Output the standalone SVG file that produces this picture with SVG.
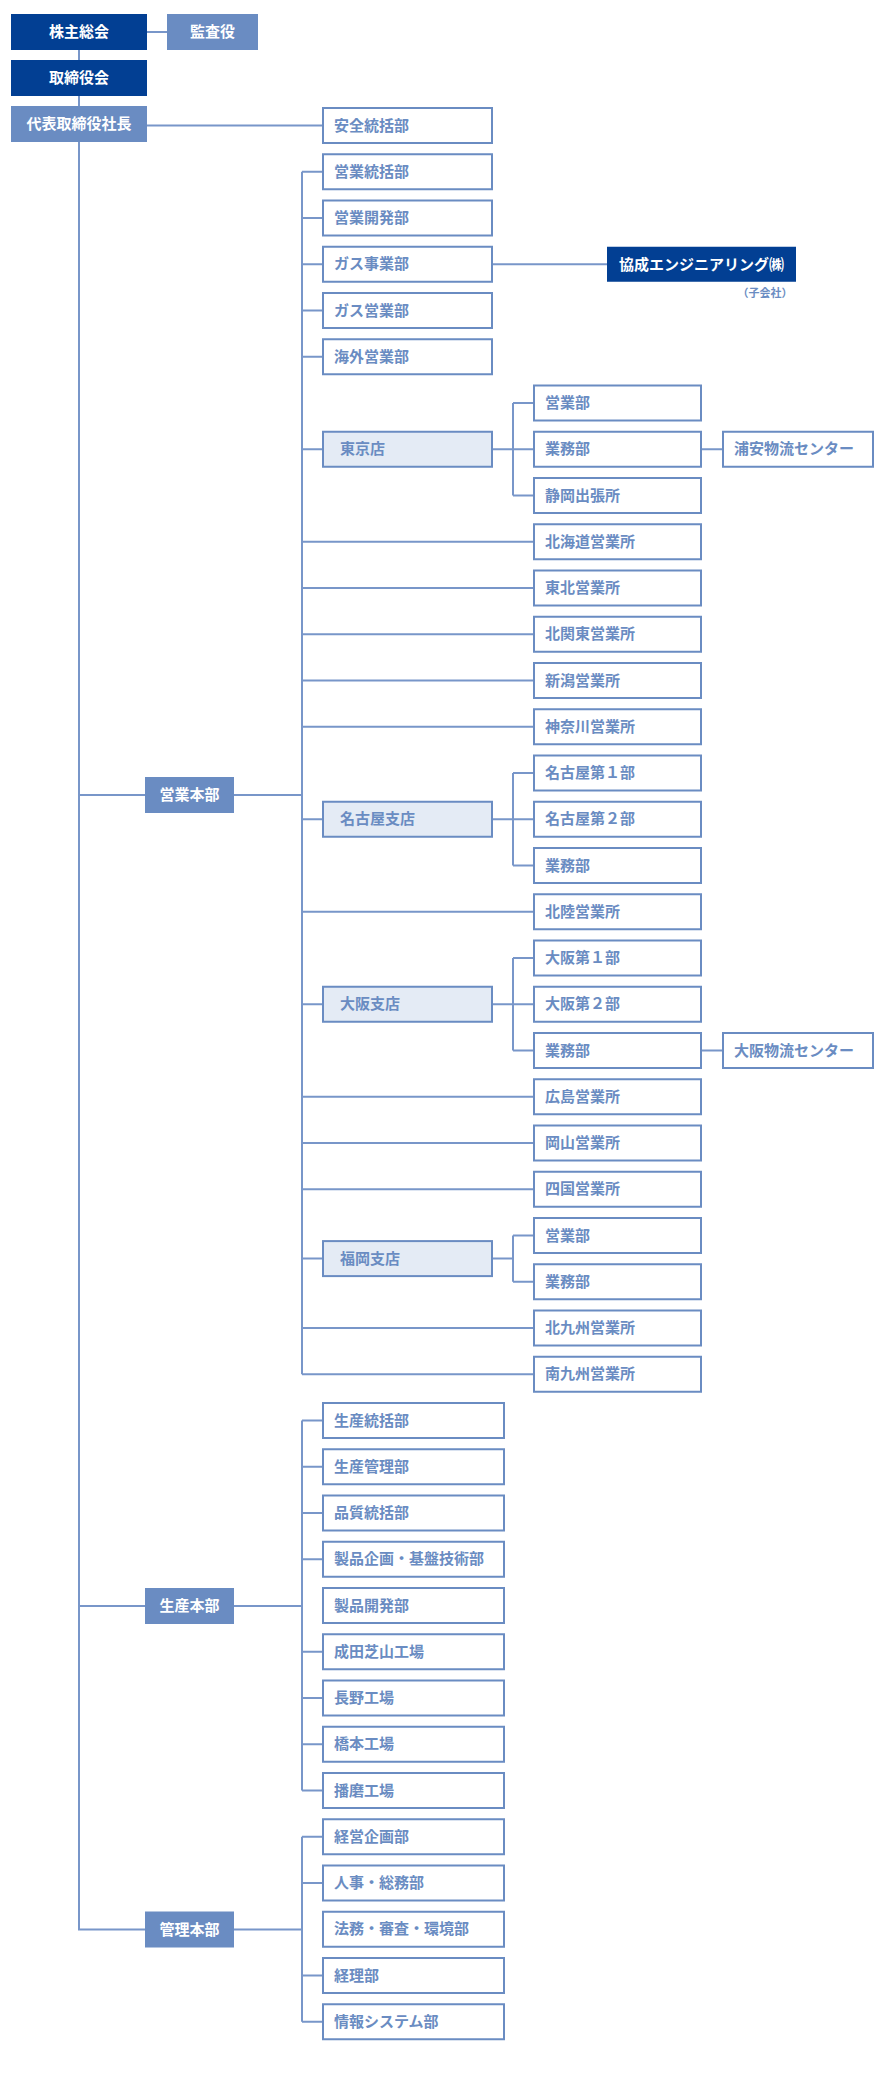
<svg xmlns="http://www.w3.org/2000/svg" width="883" height="2098" viewBox="0 0 883 2098">
<style>
text{font-family:"Noto Sans CJK JP","Noto Sans",sans-serif;font-size:15px;font-weight:bold}
.d rect{fill:#023f93}
.m rect{fill:#6a8cc2}
.d text,.m text{fill:#fff;text-anchor:middle}
.w rect{fill:#fff;stroke:#6a8cc2;stroke-width:2}
.b rect{fill:#e4ebf5;stroke:#6a8cc2;stroke-width:2}
.w text,.b text{fill:#6a8cc2}
#conn path{fill:none;stroke:#7896c9;stroke-width:2}
</style>
<g id="conn">
<path d="M79 50V1929.5H145M79 795H145M234 795H302M79 1606H145M234 1606H302M234 1929.5H302"/>
<path d="M147 32H167M147 125.5H323"/>
<path d="M302 171.75V1374.25M302 171.75H323M302 218H323M302 264.25H323M302 310.5H323M302 356.75H323M302 449.25H323M302 541.75H534M302 588H534M302 634.25H534M302 680.5H534M302 726.75H534M302 819.25H323M302 911.75H534M302 1004.25H323M302 1096.75H534M302 1143H534M302 1189.25H534M302 1258.6H323M302 1328H534M302 1374.25H534"/>
<path d="M492 264.25H607"/>
<path d="M492 449.25H534M513 403V495.5M513 403H534M513 495.5H534M701 449.25H723"/>
<path d="M492 819.25H534M513 773V865.5M513 773H534M513 865.5H534"/>
<path d="M492 1004.25H534M513 958V1050.5M513 958H534M513 1050.5H534M701 1050.5H723"/>
<path d="M492 1258.6H513M513 1235.5V1281.75M513 1235.5H534M513 1281.75H534"/>
<path d="M302 1420.5V1790.5M302 1420.5H323M302 1466.75H323M302 1513H323M302 1559.25H323M302 1651.75H323M302 1698H323M302 1744.25H323M302 1790.5H323"/>
<path d="M302 1836.75V2021.75M302 1836.75H323M302 1883H323M302 1975.5H323M302 2021.75H323"/>
</g>
<g id="n-kabunushi" class="d"><rect x="11" y="14" width="136" height="36"/><text x="79" y="37">株主総会</text></g>
<g id="n-kansa" class="m"><rect x="167" y="14" width="91" height="36"/><text x="212.5" y="37">監査役</text></g>
<g id="n-torishimari" class="d"><rect x="11" y="60" width="136" height="36"/><text x="79" y="83">取締役会</text></g>
<g id="n-shacho" class="m"><rect x="11" y="106" width="136" height="36"/><text x="79" y="129">代表取締役社長</text></g>
<g id="n-eigyo-honbu" class="m"><rect x="145" y="777" width="89" height="36"/><text x="189.5" y="800">営業本部</text></g>
<g id="n-seisan-honbu" class="m"><rect x="145" y="1588" width="89" height="36"/><text x="189.5" y="1611">生産本部</text></g>
<g id="n-kanri-honbu" class="m"><rect x="145" y="1911.5" width="89" height="36"/><text x="189.5" y="1934.5">管理本部</text></g>
<g id="n-kyosei" class="d"><rect x="607" y="246.75" width="189" height="35"/><text x="701.5" y="269.5">協成エンジニアリング㈱</text></g>
<text x="765" y="297" style="font-size:11px;fill:#6a8cc2;text-anchor:middle">（子会社）</text>
<g id="n-anzen" class="w"><rect x="323" y="108" width="169" height="35"/><text x="334" y="130.5">安全統括部</text></g>
<g id="n-eigyotokatsu" class="w"><rect x="323" y="154.25" width="169" height="35"/><text x="334" y="176.75">営業統括部</text></g>
<g id="n-eigyokaihatsu" class="w"><rect x="323" y="200.5" width="169" height="35"/><text x="334" y="223">営業開発部</text></g>
<g id="n-gasujigyo" class="w"><rect x="323" y="246.75" width="169" height="35"/><text x="334" y="269.25">ガス事業部</text></g>
<g id="n-gaseigyo" class="w"><rect x="323" y="293" width="169" height="35"/><text x="334" y="315.5">ガス営業部</text></g>
<g id="n-kaigai" class="w"><rect x="323" y="339.25" width="169" height="35"/><text x="334" y="361.75">海外営業部</text></g>
<g id="n-tokyo" class="b"><rect x="323" y="431.75" width="169" height="35"/><text x="340" y="454.25">東京店</text></g>
<g id="n-tk-eigyo" class="w"><rect x="534" y="385.5" width="167" height="35"/><text x="545" y="408">営業部</text></g>
<g id="n-tk-gyomu" class="w"><rect x="534" y="431.75" width="167" height="35"/><text x="545" y="454.25">業務部</text></g>
<g id="n-urayasu" class="w"><rect x="723" y="431.75" width="150" height="35"/><text x="734" y="454.25">浦安物流センター</text></g>
<g id="n-shizuoka" class="w"><rect x="534" y="478" width="167" height="35"/><text x="545" y="500.5">静岡出張所</text></g>
<g id="n-hokkaido" class="w"><rect x="534" y="524.25" width="167" height="35"/><text x="545" y="546.75">北海道営業所</text></g>
<g id="n-tohoku" class="w"><rect x="534" y="570.5" width="167" height="35"/><text x="545" y="593">東北営業所</text></g>
<g id="n-kitakanto" class="w"><rect x="534" y="616.75" width="167" height="35"/><text x="545" y="639.25">北関東営業所</text></g>
<g id="n-niigata" class="w"><rect x="534" y="663" width="167" height="35"/><text x="545" y="685.5">新潟営業所</text></g>
<g id="n-kanagawa" class="w"><rect x="534" y="709.25" width="167" height="35"/><text x="545" y="731.75">神奈川営業所</text></g>
<g id="n-nagoya" class="b"><rect x="323" y="801.75" width="169" height="35"/><text x="340" y="824.25">名古屋支店</text></g>
<g id="n-ng1" class="w"><rect x="534" y="755.5" width="167" height="35"/><text x="545" y="778">名古屋第１部</text></g>
<g id="n-ng2" class="w"><rect x="534" y="801.75" width="167" height="35"/><text x="545" y="824.25">名古屋第２部</text></g>
<g id="n-ng-gyomu" class="w"><rect x="534" y="848" width="167" height="35"/><text x="545" y="870.5">業務部</text></g>
<g id="n-hokuriku" class="w"><rect x="534" y="894.25" width="167" height="35"/><text x="545" y="916.75">北陸営業所</text></g>
<g id="n-osaka" class="b"><rect x="323" y="986.75" width="169" height="35"/><text x="340" y="1009.25">大阪支店</text></g>
<g id="n-os1" class="w"><rect x="534" y="940.5" width="167" height="35"/><text x="545" y="963">大阪第１部</text></g>
<g id="n-os2" class="w"><rect x="534" y="986.75" width="167" height="35"/><text x="545" y="1009.25">大阪第２部</text></g>
<g id="n-os-gyomu" class="w"><rect x="534" y="1033" width="167" height="35"/><text x="545" y="1055.5">業務部</text></g>
<g id="n-osaka-butsuryu" class="w"><rect x="723" y="1033" width="150" height="35"/><text x="734" y="1055.5">大阪物流センター</text></g>
<g id="n-hiroshima" class="w"><rect x="534" y="1079.25" width="167" height="35"/><text x="545" y="1101.75">広島営業所</text></g>
<g id="n-okayama" class="w"><rect x="534" y="1125.5" width="167" height="35"/><text x="545" y="1148">岡山営業所</text></g>
<g id="n-shikoku" class="w"><rect x="534" y="1171.75" width="167" height="35"/><text x="545" y="1194.25">四国営業所</text></g>
<g id="n-fukuoka" class="b"><rect x="323" y="1241.1" width="169" height="35"/><text x="340" y="1263.6">福岡支店</text></g>
<g id="n-fk-eigyo" class="w"><rect x="534" y="1218" width="167" height="35"/><text x="545" y="1240.5">営業部</text></g>
<g id="n-fk-gyomu" class="w"><rect x="534" y="1264.25" width="167" height="35"/><text x="545" y="1286.75">業務部</text></g>
<g id="n-kitakyushu" class="w"><rect x="534" y="1310.5" width="167" height="35"/><text x="545" y="1333">北九州営業所</text></g>
<g id="n-minamikyushu" class="w"><rect x="534" y="1356.75" width="167" height="35"/><text x="545" y="1379.25">南九州営業所</text></g>
<g id="n-s1" class="w"><rect x="323" y="1403" width="181" height="35"/><text x="334" y="1425.5">生産統括部</text></g>
<g id="n-s2" class="w"><rect x="323" y="1449.25" width="181" height="35"/><text x="334" y="1471.75">生産管理部</text></g>
<g id="n-s3" class="w"><rect x="323" y="1495.5" width="181" height="35"/><text x="334" y="1518">品質統括部</text></g>
<g id="n-s4" class="w"><rect x="323" y="1541.75" width="181" height="35"/><text x="334" y="1564.25">製品企画・基盤技術部</text></g>
<g id="n-s5" class="w"><rect x="323" y="1588" width="181" height="35"/><text x="334" y="1610.5">製品開発部</text></g>
<g id="n-s6" class="w"><rect x="323" y="1634.25" width="181" height="35"/><text x="334" y="1656.75">成田芝山工場</text></g>
<g id="n-s7" class="w"><rect x="323" y="1680.5" width="181" height="35"/><text x="334" y="1703">長野工場</text></g>
<g id="n-s8" class="w"><rect x="323" y="1726.75" width="181" height="35"/><text x="334" y="1749.25">橋本工場</text></g>
<g id="n-s9" class="w"><rect x="323" y="1773" width="181" height="35"/><text x="334" y="1795.5">播磨工場</text></g>
<g id="n-k1" class="w"><rect x="323" y="1819.25" width="181" height="35"/><text x="334" y="1841.75">経営企画部</text></g>
<g id="n-k2" class="w"><rect x="323" y="1865.5" width="181" height="35"/><text x="334" y="1888">人事・総務部</text></g>
<g id="n-k3" class="w"><rect x="323" y="1911.75" width="181" height="35"/><text x="334" y="1934.25">法務・審査・環境部</text></g>
<g id="n-k4" class="w"><rect x="323" y="1958" width="181" height="35"/><text x="334" y="1980.5">経理部</text></g>
<g id="n-k5" class="w"><rect x="323" y="2004.25" width="181" height="35"/><text x="334" y="2026.75">情報システム部</text></g>
</svg>
